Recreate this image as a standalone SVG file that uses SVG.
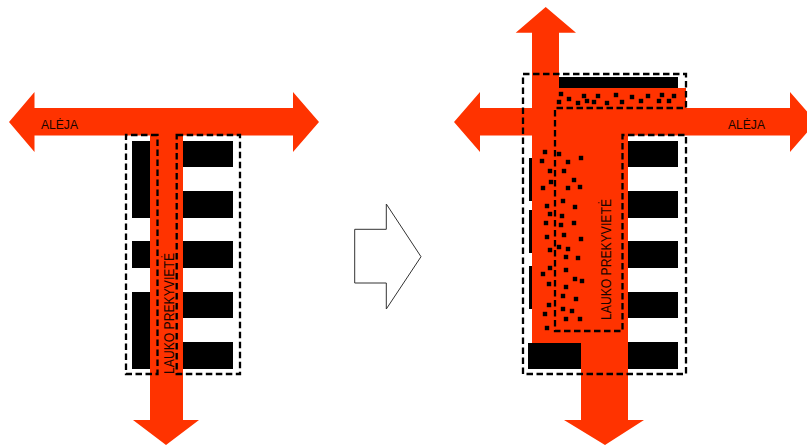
<svg xmlns="http://www.w3.org/2000/svg" width="807" height="446" viewBox="0 0 807 446">
<style>
.b{fill:#000}
.r{fill:#ff3300}
.d{fill:none;stroke:#000;stroke-width:2.300;stroke-dasharray:6.500 3.500}
.t{font-family:"Liberation Sans",Arial,sans-serif;font-size:13.500px;fill:#1a0500}
.v{font-family:"Liberation Sans",Arial,sans-serif;font-size:15px;fill:#1a0500}
</style>
<defs><rect id="p" x="-2.200" y="-2.200" width="4.400" height="4.400" fill="#000"/></defs>
<rect width="807" height="446" fill="#fff"/>
<g id="left-plan">
<g id="left-buildings">
<rect class="b" x="132" y="141" width="18" height="77"/>
<rect class="b" x="132" y="241" width="18" height="27"/>
<rect class="b" x="132" y="292" width="18" height="77"/>
<rect class="b" x="183" y="141" width="50" height="26"/>
<rect class="b" x="183" y="191" width="50" height="27"/>
<rect class="b" x="183" y="241" width="50" height="27"/>
<rect class="b" x="183" y="292" width="50" height="26"/>
<rect class="b" x="183" y="342" width="50" height="27"/>
</g>
<polygon id="left-aleja-arrow" class="r" points="9,122 34.500,92 34.500,108 293,108 293,92 319,122 293,152 293,135.500 34.500,135.500 34.500,152"/>
<polygon id="left-parking-arrow" class="r" points="150,135 183,135 183,420 199,420 166,445 133,420 150,420"/>
<g id="left-dashes">
<path class="d" d="M157.500 135H126V374H157.500Z"/>
<path class="d" d="M176.700 135H240V374H176.700Z"/>
</g>
<text class="t" x="41" y="129" textLength="37" lengthAdjust="spacingAndGlyphs">ALĖJA</text>
<text class="v" transform="translate(173.500 374) rotate(-90)" textLength="121" lengthAdjust="spacingAndGlyphs">LAUKO PREKYVIETĖ</text>
</g>
<polygon id="transition-arrow" points="354.700,229.300 386.300,229.300 386.300,204 421,256.700 386.300,309 386.300,283 354.700,283" fill="#fff" stroke="#333" stroke-width="1"/>
<g id="right-plan">
<g id="right-buildings">
<rect class="b" x="559" y="77" width="119" height="11"/>
<rect class="b" x="628" y="141" width="50" height="26"/>
<rect class="b" x="628" y="191" width="50" height="27"/>
<rect class="b" x="628" y="241" width="50" height="27"/>
<rect class="b" x="628" y="292" width="50" height="26"/>
<rect class="b" x="628" y="342" width="50" height="27"/>
<rect class="b" x="528" y="343" width="53" height="26"/>
<rect class="b" x="529" y="158" width="3" height="43"/>
<rect class="b" x="529" y="210" width="3" height="43"/>
<rect class="b" x="529" y="266" width="3" height="43"/>
</g>
<polygon id="right-aleja-arrow" class="r" points="454,122 480,92 480,108 790,108 790,92 816,122 790,152 790,135.500 480,135.500 480,152"/>
<polygon id="right-north-arrow" class="r" points="545.700,7 576,32.700 559,32.700 559,108 532,108 532,32.700 515.700,32.700"/>
<rect id="right-upper-block" class="r" x="559" y="88" width="127" height="21"/>
<polygon id="right-parking-arrow" class="r" points="532,135 628,135 628,420 644,420 605,445 564,420 581,420 581,343 532,343"/>
<g id="right-dots">
<use href="#p" x="561" y="94"/><use href="#p" x="559" y="102"/><use href="#p" x="569" y="99"/><use href="#p" x="578" y="103"/><use href="#p" x="584" y="96"/><use href="#p" x="587" y="101"/><use href="#p" x="594" y="102"/><use href="#p" x="598" y="96"/><use href="#p" x="607" y="103"/><use href="#p" x="616" y="95"/><use href="#p" x="622" y="102"/><use href="#p" x="632" y="97"/><use href="#p" x="641" y="101"/><use href="#p" x="648" y="96"/><use href="#p" x="659" y="101"/><use href="#p" x="662" y="95"/><use href="#p" x="669" y="101"/><use href="#p" x="674" y="96"/>
<use href="#p" x="545" y="152"/><use href="#p" x="559" y="154"/><use href="#p" x="581" y="158"/><use href="#p" x="542" y="161"/><use href="#p" x="568" y="162"/><use href="#p" x="550" y="171"/><use href="#p" x="564" y="171"/><use href="#p" x="574" y="180"/><use href="#p" x="551" y="182"/><use href="#p" x="543" y="188"/><use href="#p" x="568" y="188"/><use href="#p" x="580" y="187"/><use href="#p" x="563" y="201"/><use href="#p" x="547" y="206"/><use href="#p" x="575" y="207"/><use href="#p" x="550" y="214"/><use href="#p" x="562" y="216"/><use href="#p" x="546" y="223"/><use href="#p" x="574" y="223"/><use href="#p" x="561" y="225"/><use href="#p" x="547" y="237"/><use href="#p" x="564" y="235"/><use href="#p" x="581" y="239"/>
<use href="#p" x="550" y="250"/><use href="#p" x="559" y="247"/><use href="#p" x="568" y="249"/><use href="#p" x="566" y="257"/><use href="#p" x="578" y="258"/><use href="#p" x="550" y="268"/><use href="#p" x="566" y="270"/><use href="#p" x="543" y="274"/><use href="#p" x="575" y="279"/><use href="#p" x="582" y="281"/><use href="#p" x="549" y="284"/><use href="#p" x="566" y="287"/><use href="#p" x="563" y="296"/><use href="#p" x="576" y="299"/><use href="#p" x="549" y="305"/><use href="#p" x="563" y="309"/><use href="#p" x="572" y="311"/><use href="#p" x="545" y="314"/><use href="#p" x="566" y="319"/><use href="#p" x="580" y="319"/><use href="#p" x="547" y="328"/>
</g>
<path id="right-dashes" class="d" d="M523 74H686V108H555V331H622.500V135H686V374H523Z"/>
<text class="t" x="728" y="129" textLength="37" lengthAdjust="spacingAndGlyphs">ALĖJA</text>
<text class="v" transform="translate(611 320) rotate(-90)" textLength="121" lengthAdjust="spacingAndGlyphs">LAUKO PREKYVIETĖ</text>
</g>
</svg>
